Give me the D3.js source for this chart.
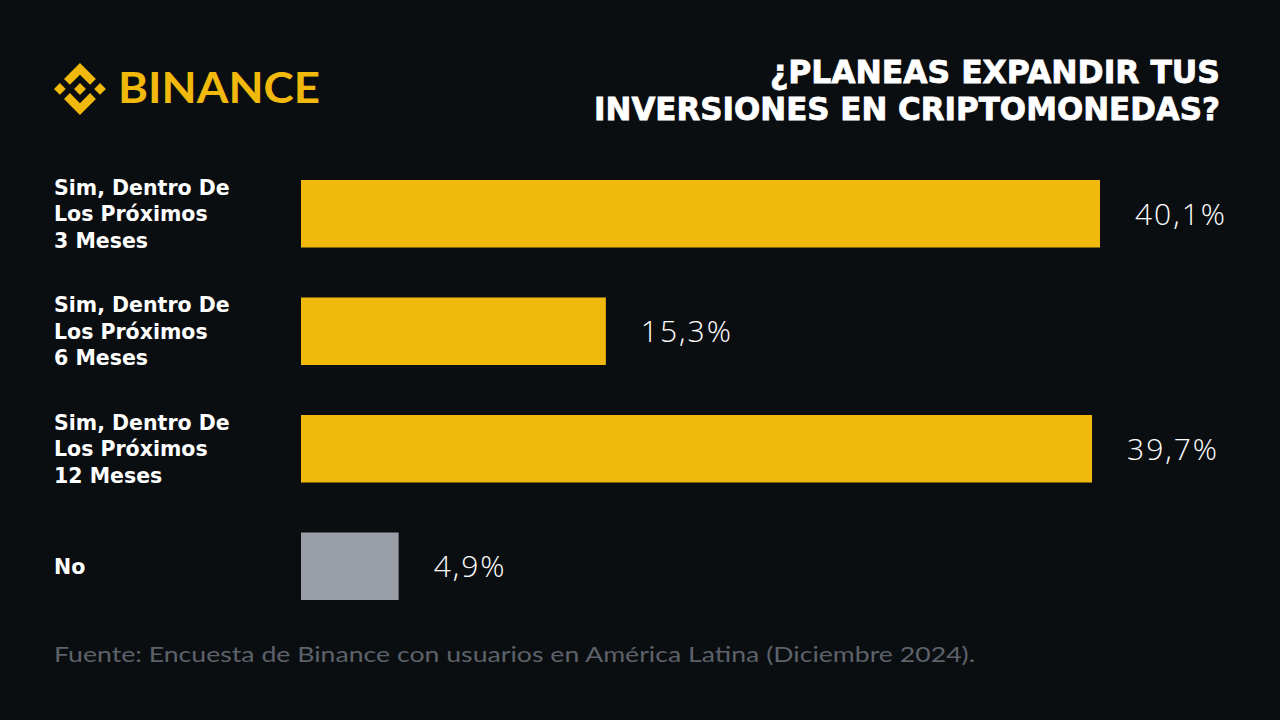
<!DOCTYPE html>
<html><head><meta charset="utf-8">
<script src="https://cdn.jsdelivr.net/npm/d3@7"></script>
<style>html,body{margin:0;padding:0;background:#0b0e11;}svg{display:block;}</style>
</head><body>
<script>
const categories = [
  ["Sim, Dentro De","Los Próximos","3 Meses"],
  ["Sim, Dentro De","Los Próximos","6 Meses"],
  ["Sim, Dentro De","Los Próximos","12 Meses"],
  ["No"]
];
const values = [40.1, 15.3, 39.7, 4.9];
const valueLabels = ["40,1%","15,3%","39,7%","4,9%"];
const titleLines = ["¿PLANEAS EXPANDIR TUS","INVERSIONES EN CRIPTOMONEDAS?"];
const brand = "BINANCE";
const source = "Fuente: Encuesta de Binance con usuarios en América Latina (Diciembre 2024).";

const W = 1280, H = 720;
const svg = d3.select("body").append("svg").attr("width", W).attr("height", H);
svg.append("rect").attr("width", W).attr("height", H).attr("fill", "#0b0e11");

// Logo
const logo = svg.append("g").attr("transform", "translate(54,63) scale(0.41)").attr("fill", "#F0B90B");
["M38.73 53.2l24.59-24.58 24.6 24.6 14.3-14.31L63.32 0 24.42 38.9z",
 "M0 63.31l14.3-14.31 14.31 14.31-14.31 14.3z",
 "M38.73 73.41l24.59 24.59 24.6-24.6 14.31 14.29-38.9 38.91-38.91-38.88z",
 "M98 63.31l14.3-14.31 14.31 14.3-14.31 14.32z",
 "M77.83 63.3L63.32 48.78 52.59 59.51l-1.24 1.23-2.54 2.54 14.51 14.5 14.51-14.52z"
].forEach(d => logo.append("path").attr("d", d));
svg.append("text").attr("x", 118).attr("y", 103).text(brand)
  .attr("fill", "#F0B90B").attr("font-family", "Lato, sans-serif").attr("font-weight", 700)
  .attr("font-size", 42).attr("textLength", 202).attr("lengthAdjust", "spacingAndGlyphs");

// Title
const titleWidths = [450, 626];
svg.append("g").selectAll("text").data(titleLines).join("text")
  .attr("x", 1220).attr("y", (d, i) => 83 + i * 37).attr("text-anchor", "end")
  .attr("fill", "#ffffff").attr("font-family", "'DejaVu Sans', sans-serif").attr("font-weight", 700)
  .attr("font-size", 31.5).attr("stroke", "#ffffff").attr("stroke-width", 0.8)
  .attr("textLength", (d, i) => titleWidths[i]).attr("lengthAdjust", "spacingAndGlyphs")
  .text(d => d);

// Scales
const x = d3.scaleLinear().domain([0, 40.1]).range([301, 1100]);
const y = d3.scaleBand().domain(d3.range(values.length)).range([180, 600]).paddingInner(0.4255).paddingOuter(0);

svg.append("g").selectAll("rect").data(values).join("rect")
  .attr("x", x(0)).attr("y", (d, i) => y(i))
  .attr("width", d => x(d) - x(0)).attr("height", y.bandwidth())
  .attr("fill", (d, i) => i === values.length - 1 ? "#9a9ea6" : "#F0B90B");

svg.append("g").selectAll("text").data(values).join("text")
  .attr("x", d => x(d) + 35).attr("y", (d, i) => y(i) + y.bandwidth() / 2)
  .attr("dy", "0.36em").attr("fill", "#ffffff")
  .attr("font-family", "'Open Sans', sans-serif").attr("font-weight", 300).attr("font-size", 30)
  .attr("letter-spacing", 2)
  .text((d, i) => valueLabels[i]);

// Category labels
const lab = svg.append("g").selectAll("text").data(categories).join("text")
  .attr("x", 54).attr("fill", "#ffffff")
  .attr("font-family", "'DejaVu Sans', sans-serif").attr("font-weight", 700).attr("font-size", 20.5);
lab.each(function(lines, i) {
  const cy = y(i) + y.bandwidth() / 2;
  const lh = 26.5;
  d3.select(this).selectAll("tspan").data(lines).join("tspan")
    .attr("x", 54).attr("y", (d, j) => cy + (j - (lines.length - 1) / 2) * lh)
    .attr("dy", "0.36em").text(d => d);
});

// Source
svg.append("text").attr("x", 54).attr("y", 662).text(source)
  .attr("fill", "#5d626a").attr("font-family", "Lato, sans-serif").attr("font-weight", 400)
  .attr("font-size", 22).attr("textLength", 921).attr("lengthAdjust", "spacingAndGlyphs");
</script>
</body></html>
